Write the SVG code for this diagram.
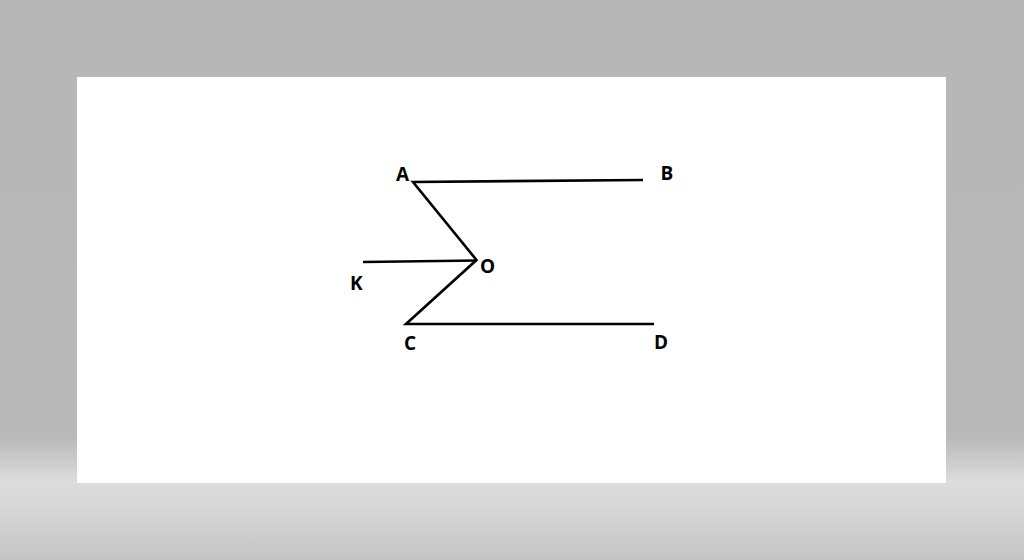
<svg xmlns="http://www.w3.org/2000/svg" width="1024" height="560" viewBox="0 0 1024 560">
<defs>
<linearGradient id="bg" x1="0" y1="0" x2="0" y2="1">
<stop offset="0" stop-color="#b5b6b5"/>
<stop offset="0.78" stop-color="#b8b9b8"/>
<stop offset="0.86" stop-color="#dbdcdb"/>
<stop offset="0.9" stop-color="#d7d8d7"/>
<stop offset="1" stop-color="#c3c4c3"/>
</linearGradient>
<style>
.ln{stroke:#000;stroke-width:2.6;fill:none;stroke-linejoin:miter;stroke-linecap:butt}
.lb{font-family:"Open Sans","Liberation Sans",sans-serif;font-weight:bold;font-size:19px;fill:#000}
</style>
</defs>
<rect width="1024" height="560" fill="url(#bg)"/>
<rect x="77" y="77" width="869" height="406" fill="#fff"/>
<g id="connectors">
<polyline class="ln" points="643,180 413,182 476.5,260 406,324 654,324"/>
<line class="ln" x1="363" y1="262" x2="476.5" y2="260.5"/>
</g>
<g id="A"><text class="lb" x="396" y="181">A</text></g>
<g id="B"><text class="lb" x="660.5" y="179.5">B</text></g>
<g id="O"><text class="lb" x="480" y="272.5">O</text></g>
<g id="K"><text class="lb" x="350" y="289.5">K</text></g>
<g id="C"><text class="lb" x="404" y="350">C</text></g>
<g id="D"><text class="lb" x="654" y="349">D</text></g>
</svg>
